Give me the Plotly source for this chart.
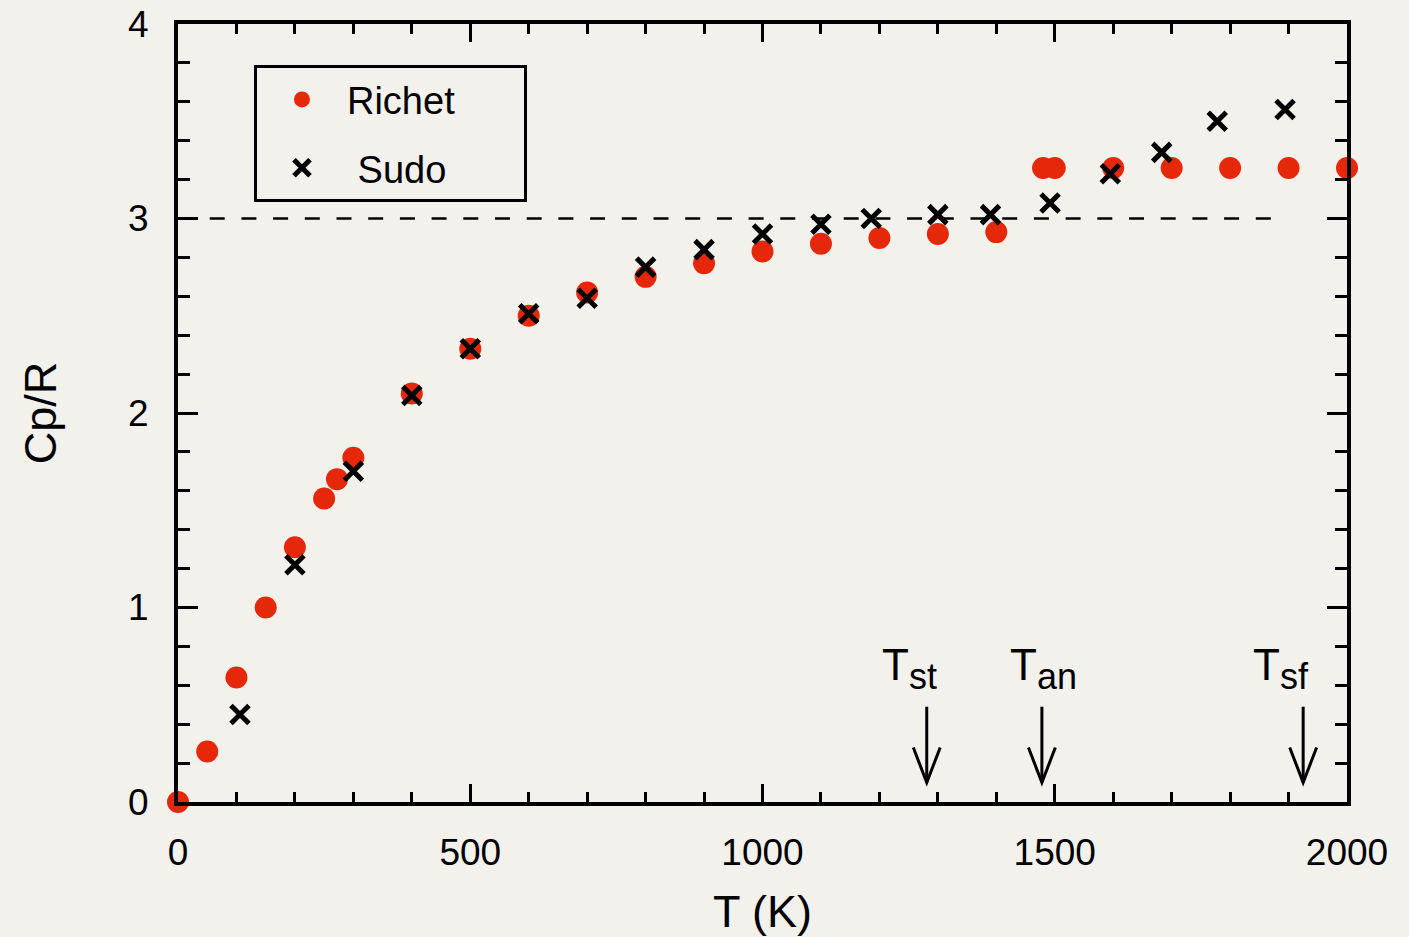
import plotly.graph_objects as go

# ---- data ----
richet_T = [0, 50, 100, 150, 200, 250, 272, 300, 400, 500, 600, 700, 800, 900,
            1000, 1100, 1200, 1300, 1400, 1480, 1500, 1600, 1700, 1800, 1900, 2000]
richet_cp = [0.0, 0.26, 0.64, 1.0, 1.31, 1.56, 1.66, 1.77, 2.10, 2.33, 2.50, 2.62, 2.70, 2.77,
             2.83, 2.87, 2.90, 2.92, 2.93, 3.26, 3.26, 3.26, 3.26, 3.26, 3.26, 3.26]

sudo_T = [106, 200, 300, 400, 500, 600, 700, 800, 900, 1000, 1100, 1186, 1300, 1390,
          1492, 1595, 1683, 1778, 1894]
sudo_cp = [0.45, 1.22, 1.70, 2.09, 2.33, 2.51, 2.59, 2.75, 2.84, 2.92, 2.97, 3.00, 3.02, 3.02,
           3.08, 3.23, 3.34, 3.50, 3.56]

dulong_petit = 3.0
dulong_petit_T = [0, 1880]

arrow_labels = ["st", "an", "sf"]
arrow_T = [1281, 1478, 1925]
label_T = [1252, 1480, 1887]
arrow_top = 0.49
arrow_tip = 0.10

x_ticks = [0, 500, 1000, 1500, 2000]
y_ticks = [0, 1, 2, 3, 4]

# ---- style ----
BG = "#f3f1ec"
RED = "#e5280a"
FONT = "Liberation Sans, Arial, Helvetica, sans-serif"
NB = "&nbsp;"

fig = go.Figure()

fig.add_trace(go.Scatter(
    x=richet_T, y=richet_cp, mode="markers", name="Richet" + NB * 6,
    legendgroup="a",
    marker=dict(symbol="circle", size=22, color=RED, line=dict(width=0)),
    cliponaxis=False,
))
fig.add_trace(go.Scatter(
    x=sudo_T, y=sudo_cp, mode="markers", name=NB + "Sudo",
    legendgroup="b",
    marker=dict(symbol="x-thin", size=18, color="black",
                line=dict(width=5, color="black")),
    cliponaxis=False,
))

# dashed Dulong-Petit line
fig.add_shape(type="line", xref="x", yref="y",
              x0=dulong_petit_T[0], x1=dulong_petit_T[1], y0=dulong_petit, y1=dulong_petit,
              line=dict(color="black", width=2.5, dash="15px,16.7px"), layer="below")

# arrows and labels
head_dx = 23
head_dy = 0.18
for lab, t, lt in zip(arrow_labels, arrow_T, label_T):
    fig.add_shape(type="path", xref="x", yref="y",
                  path=f"M{t},{arrow_top} L{t},{arrow_tip}",
                  line=dict(color="black", width=3))
    fig.add_shape(type="path", xref="x", yref="y",
                  path=f"M{t-head_dx},{arrow_tip+head_dy} L{t},{arrow_tip} L{t+head_dx},{arrow_tip+head_dy}",
                  line=dict(color="black", width=3))
    fig.add_annotation(x=lt, y=arrow_top + 0.04, xref="x", yref="y",
                       text=f"T<sub><span style='font-size:36px'>{lab}</span></sub>",
                       showarrow=False, yanchor="bottom", xanchor="center",
                       font=dict(size=44, color="black", family=FONT))

axis_common = dict(
    showgrid=False, zeroline=False, showline=True, linecolor="black", linewidth=4,
    mirror="ticks", ticks="inside", tickcolor="black", tickwidth=3,
    tickfont=dict(size=37, color="black", family=FONT), automargin=False,
)

fig.update_xaxes(
    range=[0, 2000], tickvals=x_ticks, ticklen=18, ticklabelstandoff=15,
    minor=dict(dtick=100, ticks="inside", ticklen=10, tickwidth=3, tickcolor="black"),
    title=dict(text="T (K)", font=dict(size=45, color="black", family=FONT), standoff=29),
    **axis_common,
)
fig.update_yaxes(
    range=[0, 4], tickvals=y_ticks, ticklen=20, ticklabelstandoff=18,
    minor=dict(dtick=0.2, ticks="inside", ticklen=12, tickwidth=3, tickcolor="black"),
    title=dict(text="Cp/R", font=dict(size=45, color="black", family=FONT), standoff=58),
    **axis_common,
)

fig.update_layout(
    width=1409, height=937,
    paper_bgcolor=BG, plot_bgcolor=BG,
    margin=dict(l=178, r=62, t=24, b=135),
    font=dict(family=FONT, color="black"),
    showlegend=True,
    legend=dict(
        x=0.065, y=0.947, xanchor="left", yanchor="top",
        bgcolor=BG, bordercolor="black", borderwidth=3,
        font=dict(size=38, color="black", family=FONT),
        tracegroupgap=16, itemsizing="trace", itemwidth=80,
    ),
)

fig.write_html("out.html")
